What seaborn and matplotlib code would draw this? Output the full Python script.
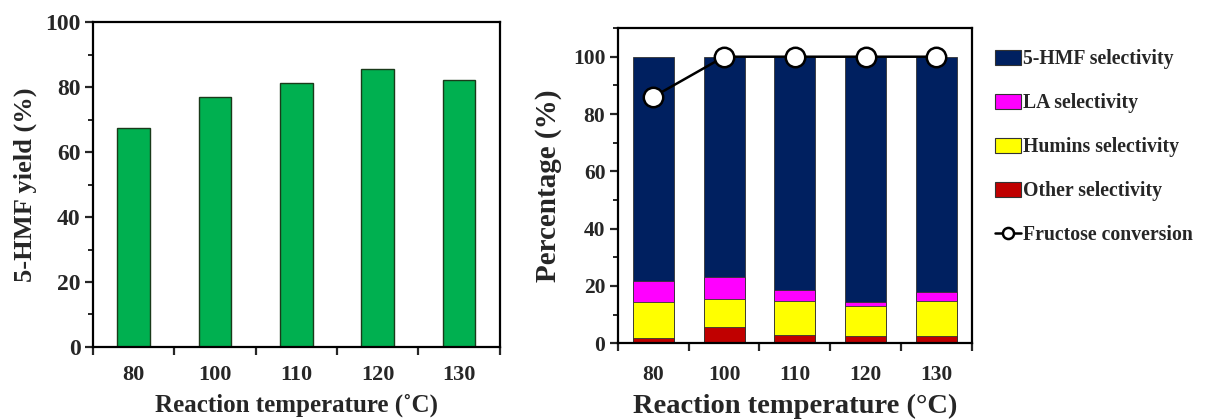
import numpy as np
import pandas as pd
import matplotlib
matplotlib.use("Agg")
import matplotlib.pyplot as plt
from matplotlib.patches import Patch
from matplotlib.lines import Line2D
from matplotlib.ticker import MultipleLocator, FixedLocator
import seaborn as sns

# data
temps = ["80", "100", "110", "120", "130"]
hmf_yield = [67.3, 77.0, 81.3, 85.6, 82.1]

other_sel = [1.8, 5.5, 3.0, 2.5, 2.5]
humins_sel = [12.7, 10.0, 11.8, 10.5, 12.3]
la_sel = [7.3, 7.5, 3.9, 1.5, 3.2]
hmf_sel = [78.2, 77.0, 81.3, 85.5, 82.0]
conversion = [86.0, 100.0, 100.0, 100.0, 100.0]

sns.set_theme(style="ticks")
plt.rcParams["font.family"] = ["Liberation Serif", "DejaVu Serif"]
plt.rcParams["font.weight"] = "bold"
plt.rcParams["axes.labelweight"] = "bold"

fig = plt.figure(figsize=(12.07, 4.19), dpi=100)
ax1 = fig.add_axes([0.077, 0.172, 0.337, 0.775])
ax2 = fig.add_axes([0.512, 0.181, 0.293, 0.752])


def style_axes(ax, ymax, xfs, yfs, xtfs, ytfs, xpad):
    ax.set_xlim(-0.5, 4.5)
    ax.set_ylim(0, ymax)
    for s in ax.spines.values():
        s.set_linewidth(1.6)
        s.set_color("black")
        s.set_visible(True)
    # tick marks between categories, labels centered under bars
    ax.xaxis.set_major_locator(FixedLocator(np.arange(-0.5, 4.6, 1.0)))
    ax.xaxis.set_minor_locator(FixedLocator(np.arange(5)))
    ax.set_xticklabels([""] * 6)
    ax.set_xticklabels(temps, minor=True)
    ax.tick_params(axis="x", which="major", length=6, width=1.6, direction="out")
    ax.tick_params(axis="x", which="minor", length=0, pad=xpad, labelsize=xtfs)
    ax.yaxis.set_major_locator(MultipleLocator(20))
    ax.yaxis.set_minor_locator(MultipleLocator(10))
    ax.tick_params(axis="y", which="major", length=6, width=1.6, labelsize=ytfs, pad=3)
    ax.tick_params(axis="y", which="minor", length=3.5, width=1.4)
    for lab in ax.get_xticklabels(minor=True) + ax.get_yticklabels():
        lab.set_fontweight("bold")
    ax.xaxis.label.set_size(xfs)
    ax.yaxis.label.set_size(yfs)


# left panel: 5-HMF yield
df1 = pd.DataFrame({"temp": temps, "yield": hmf_yield})
sns.barplot(data=df1, x="temp", y="yield", color="#00B050", width=0.4,
            edgecolor="#1a3a1a", linewidth=1.0, saturation=1, ax=ax1)
ax1.set_xlabel("Reaction temperature (˚C)", labelpad=6)
ax1.set_ylabel("5-HMF yield (%)", labelpad=6)
style_axes(ax1, 100, 18, 19, 16, 17, 13)

# right panel: stacked selectivity + conversion
c_other = np.array(other_sel)
c_humins = c_other + np.array(humins_sel)
c_la = c_humins + np.array(la_sel)
c_hmf = c_la + np.array(hmf_sel)
layers = [(c_hmf, "#002060", "5-HMF selectivity"),
          (c_la, "#FF00FF", "LA selectivity"),
          (c_humins, "#FFFF00", "Humins selectivity"),
          (c_other, "#C00000", "Other selectivity")]
for tops, col, name in layers:
    d = pd.DataFrame({"temp": temps, "v": tops})
    sns.barplot(data=d, x="temp", y="v", color=col, width=0.58,
                edgecolor="#333333", linewidth=0.6, saturation=1, ax=ax2)

dconv = pd.DataFrame({"temp": temps, "conv": conversion})
sns.lineplot(data=dconv, x="temp", y="conv", color="black", linewidth=1.8,
             marker="o", markersize=14, markerfacecolor="white",
             markeredgecolor="black", markeredgewidth=1.8, ax=ax2, zorder=5)
ax2.set_xlabel("Reaction temperature (°C)", labelpad=6)
ax2.set_ylabel("Percentage (%)", labelpad=8)
style_axes(ax2, 110, 20.5, 21, 15.5, 15.5, 16)

handles = [Patch(facecolor=col, edgecolor="#333333", linewidth=0.8, label=name)
           for _, col, name in layers]
handles.append(Line2D([0], [0], color="black", linewidth=1.8, marker="o",
                      markersize=8, markerfacecolor="white",
                      markeredgecolor="black", markeredgewidth=1.8,
                      label="Fructose conversion"))
leg = fig.legend(handles=handles, loc="upper left", bbox_to_anchor=(0.81, 0.925),
                 frameon=False, handlelength=1.3, handleheight=0.8,
                 handletextpad=0.08, labelspacing=1.22,
                 prop={"family": "Liberation Serif", "weight": "bold", "size": 14.2})

fig.savefig("out.png", dpi=100)
